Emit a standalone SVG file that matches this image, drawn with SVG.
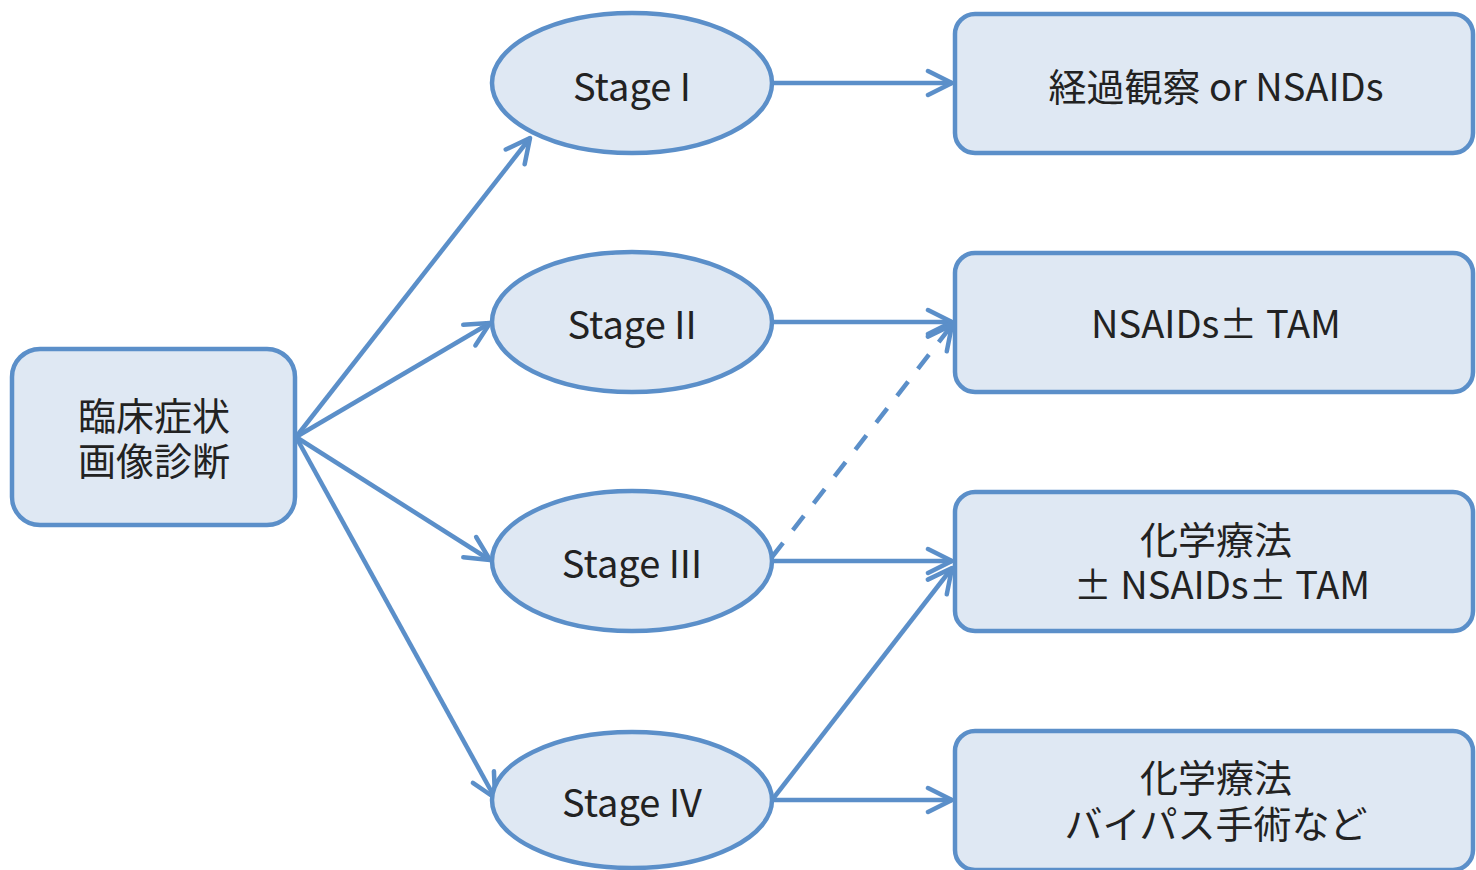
<svg xmlns="http://www.w3.org/2000/svg" width="1476" height="870" viewBox="0 0 1476 870">
<style>
.n{fill:#dfe8f3;stroke:#5b8fc9;stroke-width:4.5}
.t{font-family:"Noto Sans CJK JP","Noto Sans",sans-serif;font-size:38px;fill:#222;text-anchor:middle;dominant-baseline:central}
.c{stroke:#5b8fc9;stroke-width:4.5;fill:none;marker-end:url(#a)}
.d{stroke-dasharray:18 16}
</style>
<defs>
<marker id="a" markerUnits="userSpaceOnUse" viewBox="0 0 30 30" markerWidth="30" markerHeight="30" refX="27" refY="15" orient="auto">
<path d="M3,3 L27,15 L3,27" fill="none" stroke="#5b8fc9" stroke-width="4.5" stroke-linecap="round" stroke-linejoin="round"/>
</marker>
</defs>
<rect width="1476" height="870" fill="#fff"/>
<g id="connectors">
<line class="c" x1="296" y1="437" x2="530" y2="138"/>
<line class="c" x1="296" y1="437" x2="490" y2="323"/>
<line class="c" x1="296" y1="437" x2="490" y2="560"/>
<line class="c" x1="296" y1="437" x2="495" y2="798"/>
<line class="c" x1="772" y1="83" x2="952" y2="83"/>
<line class="c" x1="772" y1="322" x2="952" y2="322"/>
<line class="c d" x1="772" y1="557" x2="952" y2="325"/>
<line class="c" x1="772" y1="561" x2="952" y2="561"/>
<line class="c" x1="772" y1="800" x2="952" y2="568"/>
<line class="c" x1="772" y1="800" x2="952" y2="800"/>
</g>
<g id="start"><rect class="n" x="12" y="349" width="283" height="176" rx="28"/><text class="t"><tspan x="154" y="413">臨床症状</tspan><tspan x="154" y="458">画像診断</tspan></text></g>
<g id="s1"><ellipse class="n" cx="632" cy="83" rx="140" ry="70"/><text class="t" x="632" y="84">Stage I</text></g>
<g id="s2"><ellipse class="n" cx="632" cy="322" rx="140" ry="70"/><text class="t" x="632" y="322">Stage II</text></g>
<g id="s3"><ellipse class="n" cx="632" cy="561" rx="140" ry="70"/><text class="t" x="632" y="561">Stage III</text></g>
<g id="s4"><ellipse class="n" cx="632" cy="800" rx="140" ry="68"/><text class="t" x="632" y="800">Stage IV</text></g>
<g id="r1"><rect class="n" x="955" y="14" width="518" height="139" rx="20"/><text class="t" x="1216" y="84">経過観察 or NSAIDs</text></g>
<g id="r2"><rect class="n" x="955" y="253" width="518" height="139" rx="20"/><text class="t" x="1216" y="321">NSAIDs± TAM</text></g>
<g id="r3"><rect class="n" x="955" y="492" width="518" height="139" rx="20"/><text class="t"><tspan x="1216" y="537">化学療法</tspan><tspan x="1222" y="582">± NSAIDs± TAM</tspan></text></g>
<g id="r4"><rect class="n" x="955" y="731" width="518" height="139" rx="20"/><text class="t"><tspan x="1216" y="775">化学療法</tspan><tspan x="1216" y="821">バイパス手術など</tspan></text></g>
</svg>
